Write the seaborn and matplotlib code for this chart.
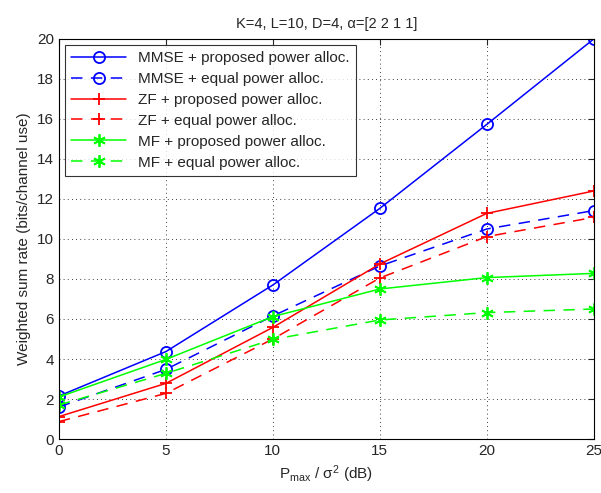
import numpy as np
import pandas as pd
import matplotlib
matplotlib.use('Agg')
import matplotlib.pyplot as plt
import seaborn as sns

# data
snr_db = [0, 5, 10, 15, 20, 25]
mmse_prop = [2.15, 4.37, 7.7, 11.53, 15.73, 20.0]
mmse_eq = [1.6, 3.48, 6.15, 8.65, 10.5, 11.42]
zf_prop = [1.12, 2.78, 5.58, 8.75, 11.28, 12.4]
zf_eq = [0.87, 2.28, 5.0, 8.05, 10.12, 11.08]
mf_prop = [2.1, 3.98, 6.12, 7.5, 8.07, 8.28]
mf_eq = [1.7, 3.28, 4.98, 5.95, 6.32, 6.5]

labels = ['MMSE + proposed power alloc.', 'MMSE + equal power alloc.',
          'ZF + proposed power alloc.', 'ZF + equal power alloc.',
          'MF + proposed power alloc.', 'MF + equal power alloc.']
series = [mmse_prop, mmse_eq, zf_prop, zf_eq, mf_prop, mf_eq]
colors = ['#0000ff', '#0000ff', '#ff0000', '#ff0000', '#00ff00', '#00ff00']
markers = ['o', 'o', '+', '+', (6, 2, 0), (6, 2, 0)]
dashed = [False, True, False, True, False, True]

sns.set_style('white')
plt.rcParams['font.family'] = ['Liberation Sans', 'DejaVu Sans']
plt.rcParams['mathtext.fontset'] = 'custom'
plt.rcParams['mathtext.rm'] = 'Liberation Sans'
plt.rcParams['mathtext.it'] = 'Liberation Sans'
plt.rcParams['font.size'] = 10

fig = plt.figure(figsize=(6.01, 4.93), dpi=100)
ax = fig.add_axes([0.098, 0.1095, 0.890, 0.8115])

for y, lab, c, m, d in zip(series, labels, colors, markers, dashed):
    df = pd.DataFrame({'x': snr_db, 'y': y})
    sns.lineplot(data=df, x='x', y='y', ax=ax, color=c, marker=m,
                 markersize=8 if m == 'o' else 9,
                 markerfacecolor='none' if m == 'o' else c,
                 markeredgecolor=c, markeredgewidth=1.3,
                 linewidth=1.1, label=lab,
                 linestyle=(0, (7.5, 5.5)) if d else '-')

ax.set_xlim(0, 25)
ax.set_ylim(0, 20)
ax.set_xticks(snr_db)
ax.set_yticks(range(0, 21, 2))
ax.grid(True, linestyle=(0, (1, 4)), color='black', linewidth=0.6)
ax.tick_params(direction='in', top=True, right=True, length=4, labelsize=11)
for s in ax.spines.values():
    s.set_color('black')
    s.set_linewidth(0.8)

ax.set_title('K=4, L=10, D=4, α=[2 2 1 1]', fontsize=10.5, pad=8)
ax.set_xlabel(r'P$_{\mathrm{max}}$ / $\sigma^2$ (dB)', fontsize=11)
ax.set_ylabel('Weighted sum rate (bits/channel use)', fontsize=11)

leg = ax.legend(loc='upper left', fontsize=11, frameon=True, fancybox=False,
                edgecolor='black', borderaxespad=0.4, handlelength=3.6,
                labelspacing=0.45, borderpad=0.4)
leg.get_frame().set_linewidth(0.8)

fig.savefig('out.png', dpi=100)
